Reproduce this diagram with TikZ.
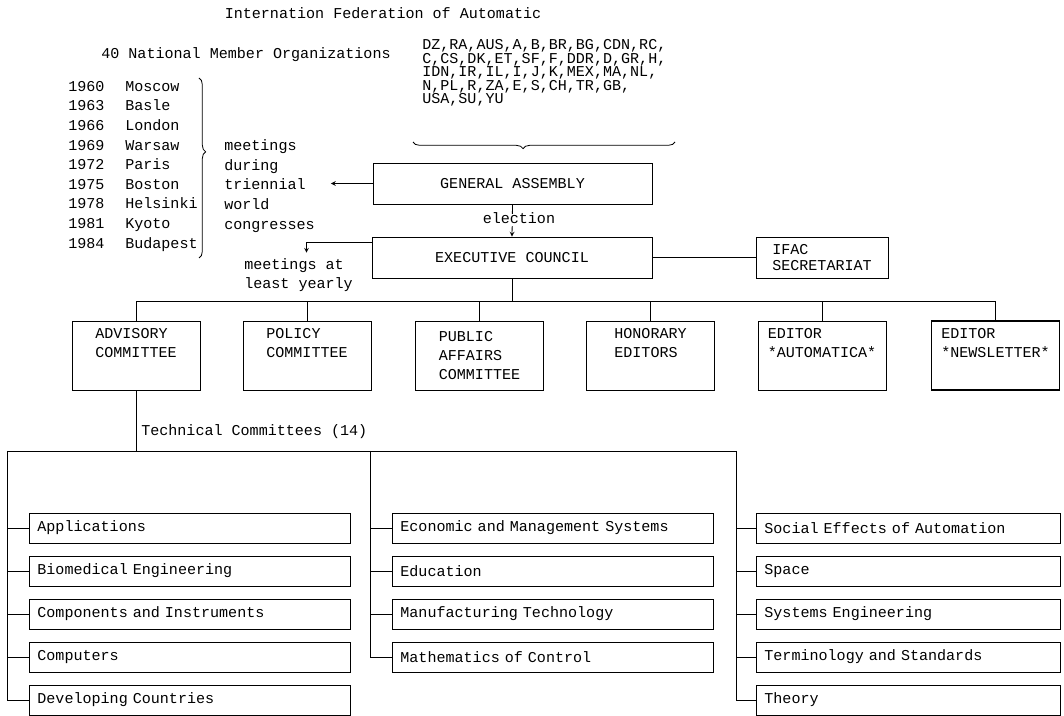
\documentclass[tikz,border=0pt]{standalone}
\usepackage{fontspec}
\setmonofont{Liberation Mono}
\usetikzlibrary{positioning,decorations.pathreplacing}
\newcommand{\tw}{\ttfamily\fontsize{11.3}{14.25}\selectfont}
\tikzset{
	txt/.style={font=\tw, inner sep=0pt},
	lbl/.style={txt, text height=7pt, text depth=2pt},
	box/.style={draw, font=\tw, line width=0.6pt},
	cbox/.style={box, minimum width=96pt, minimum height=51.75pt, align=left, inner sep=0pt},
	tcbox/.style={box, anchor=west, minimum height=22.5pt, align=left, inner xsep=6pt, inner ysep=0pt, text width=#1},
	link/.style={line width=0.6pt},
	curly/.style={decorate, decoration={brace, amplitude=5pt, aspect=#1}, line width=0.6pt}
}
\begin{document}
\begin{tikzpicture}[x=0.75pt,y=-0.75pt,>=stealth]
	\useasboundingbox (0,0) rectangle (1064,716);
	% heading and members
		\node[lbl] (title) at (383,15) {Internation Federation of Automatic};
		\node[lbl] (members) at (246,55) {40 National Member Organizations};
		\node[txt, anchor=west, align=left, font=\ttfamily\fontsize{11.3}{10.2}\selectfont] (codes) at (422,73) {DZ,RA,AUS,A,B,BR,BG,CDN,RC,\\C,CS,DK,ET,SF,F,DDR,D,GR,H,\\IDN,IR,IL,I,J,K,MEX,MA,NL,\\N,PL,R,ZA,E,S,CH,TR,GB,\\USA,SU,YU};
		\draw[curly=0.58] (675,142) -- (413,142);
	% world congresses
		\foreach \yr/\city [count=\i from 0] in {1960/Moscow, 1963/Basle, 1966/London, 1969/Warsaw, 1972/Paris, 1975/Boston, 1978/Helsinki, 1981/Kyoto, 1984/Budapest}{
			\node[lbl, anchor=west] (y\yr) at (68,{88+19.6*\i}) {\yr};
			\node[lbl, anchor=west] (c\yr) at (125,{88+19.6*\i}) {\city};
		}
		\draw[curly=0.41] (199,78) -- (199,258);
		\node[txt, anchor=west, align=left, font=\ttfamily\fontsize{11.3}{14.7}\selectfont] (congr) at (224,186) {meetings\\during\\triennial\\world\\congresses};
	% assembly and council
		\node[box, minimum width=209.25pt, minimum height=30.75pt] (ga) at (512.5,183.5) {GENERAL ASSEMBLY};
		\node[box, minimum width=210pt, minimum height=30.75pt] (ec) at (512,257.5) {EXECUTIVE COUNCIL};
		\node[box, minimum width=99pt, minimum height=30.75pt, align=left, font=\ttfamily\fontsize{11.3}{12}\selectfont] (ifac) at (822,257.5) {IFAC\\SECRETARIAT};
		\node[txt, anchor=north west, align=left, font=\ttfamily\fontsize{11.3}{14.7}\selectfont] (yearly) at (244,258) {meetings at\\least yearly};
		\draw[link,->,shorten >=12pt] (ga.west) -- (congr.east |- ga.west);
		\draw[link,->] (ga.south) -- node[lbl, fill=white, xshift=5pt] (elect) {election} (ec.north);
		\draw[link,->,shorten >=4pt] ([yshift=-4.5pt]ec.north west) -| ([xshift=6pt]yearly.north);
		\draw[link] (ec.east) -- (ifac.west);
	% committees
		\node[cbox] (adv) at (136,355.5) {ADVISORY\\COMMITTEE\\\strut};
		\node[cbox] (pol) at (307,355.5) {POLICY\\COMMITTEE\\\strut};
		\node[cbox] (pub) at (479.5,355.5) {PUBLIC\\AFFAIRS\\COMMITTEE};
		\node[cbox] (hon) at (650.5,355.5) {HONORARY\\EDITORS\\\strut};
		\node[cbox] (auto) at (822,355.5) {EDITOR\\*AUTOMATICA*\\\strut};
		\node[cbox, line width=1.1pt] (newsl) at (995.5,355.5) {EDITOR\\*NEWSLETTER*\\\strut};
		\coordinate (obus) at (0,301);
		\draw[link] (ec.south) -- (ec.south |- obus);
		\draw[link] (adv.north) -- (adv.north |- obus) -- (newsl.north |- obus) -- (newsl.north);
		\foreach \n in {pol,pub,hon,auto}
			\draw[link] (\n.north) -- (\n.north |- obus);
	% technical committees
		\node[lbl, anchor=west] (tech) at (141,432) {Technical Committees (14)};
		\coordinate (lspine) at (7,451);
		\coordinate (mspine) at (370,451);
		\coordinate (rspine) at (736,451);
		\draw[link] (adv.south) -- (adv.south |- lspine);
		\draw[link] (lspine) -- (rspine);
		\foreach \n/\t [count=\i from 0] in {app/Applications, bio/Biomedical Engineering, comp/Components and Instruments, cmpt/Computers, dev/Developing Countries}{
			\node[tcbox=228.75pt] (\n) at (29,{528+43*\i}) {\t};
			\draw[link] (lspine |- \n.west) -- (\n.west);
		}
		\foreach \n/\t [count=\i from 0] in {econ/Economic and Management Systems, edu/Education, manu/Manufacturing Technology, math/Mathematics of Control}{
			\node[tcbox=228.75pt] (\n) at (392,{528+43*\i}) {\t};
			\draw[link] (mspine |- \n.west) -- (\n.west);
		}
		\foreach \n/\t [count=\i from 0] in {soc/Social Effects of Automation, space/Space, syse/Systems Engineering, term/Terminology and Standards, theo/Theory}{
			\node[tcbox=216pt] (\n) at (756,{528+43*\i}) {\t};
			\draw[link] (rspine |- \n.west) -- (\n.west);
		}
		\draw[link] (lspine) -- (lspine |- dev.west);
		\draw[link] (mspine) -- (mspine |- math.west);
		\draw[link] (rspine) -- (rspine |- theo.west);
\end{tikzpicture}
\end{document}
